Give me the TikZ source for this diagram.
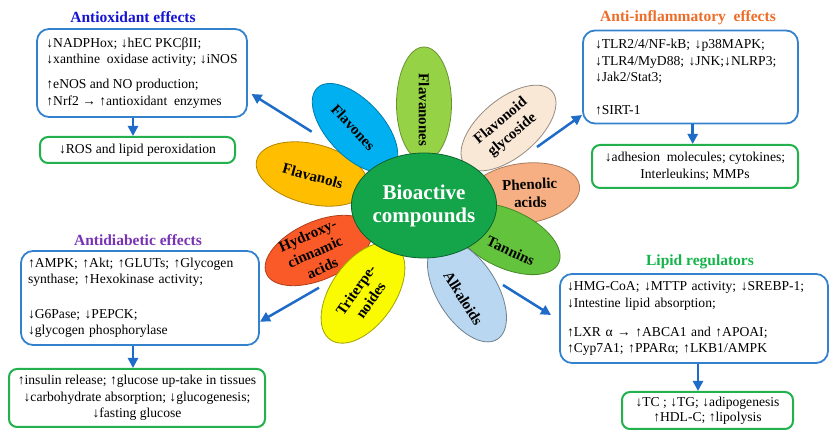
\documentclass[tikz,border=0pt]{standalone}
\usepackage{fontspec}
\setmainfont{Liberation Serif}
\usetikzlibrary{shapes.geometric,arrows.meta}

\definecolor{bxblue}{RGB}{52,130,205}
\definecolor{arblue}{RGB}{30,108,200}
\definecolor{bxgreen}{RGB}{34,177,76}
\definecolor{tblue}{RGB}{20,20,210}
\definecolor{torange}{RGB}{237,108,40}
\definecolor{tpurple}{RGB}{120,50,180}
\definecolor{tgreen}{RGB}{20,180,75}
\definecolor{cFlavanones}{RGB}{150,210,70}
\definecolor{cFlavones}{RGB}{0,176,240}
\definecolor{cFlavanols}{RGB}{255,190,0}
\definecolor{cHydroxy}{RGB}{250,90,40}
\definecolor{cTriterp}{RGB}{250,250,0}
\definecolor{cAlkaloids}{RGB}{185,215,240}
\definecolor{cTannins}{RGB}{100,195,60}
\definecolor{cPhenolic}{RGB}{245,175,130}
\definecolor{cGlyc}{RGB}{250,232,215}
\definecolor{cCenter}{RGB}{20,165,75}

\tikzset{
  bluebox/.style={draw=bxblue, line width=1.8pt, rounded corners=12pt, inner sep=0pt,
    font=\fontsize{13.6}{16.5}\selectfont, align=left},
  greenbox/.style={draw=bxgreen, line width=2pt, rounded corners=8pt, inner sep=0pt,
    font=\fontsize{13.6}{16.5}\selectfont, align=center},
  arr/.style={draw=arblue, line width=2.5pt, -{Triangle[length=10pt,width=10pt]}},
  petal/.style={ellipse, line width=0.8pt, inner sep=0pt},
  ptext/.style={font=\bfseries\fontsize{15}{18}\selectfont, align=center},
  ttl/.style={font=\bfseries\fontsize{15.5}{18}\selectfont}
}

\begin{document}
\begin{tikzpicture}[x=1pt,y=-1pt]
\useasboundingbox (0,0) rectangle (831,430);

% ---------- petals ----------
\node[petal, fill=cFlavanols, draw=cFlavanols!70!black, minimum width=114, minimum height=60, rotate=-14] (pFlavanols) at (312,174) {};
\node[petal, fill=cFlavones, draw=cFlavones!70!black, minimum width=110, minimum height=56, rotate=-47] (pFlavones) at (355,128) {};
\node[petal, fill=cFlavanones, draw=cFlavanones!70!black, minimum width=114, minimum height=55, rotate=90] (pFlavanones) at (424,104) {};
\node[petal, fill=cGlyc, draw=cGlyc!60!black, minimum width=114, minimum height=58, rotate=40] (pGlyc) at (508.5,128) {};
\node[petal, fill=cPhenolic, draw=cPhenolic!70!black, minimum width=114, minimum height=60, rotate=8] (pPhenolic) at (523,193.5) {};
\node[petal, fill=cTannins, draw=cTannins!70!black, minimum width=114, minimum height=58, rotate=-25] (pTannins) at (507,239) {};
\node[petal, fill=cAlkaloids, draw=cAlkaloids!60!black, minimum width=114, minimum height=60, rotate=-58] (pAlkaloids) at (467,291) {};
\node[petal, fill=cHydroxy, draw=cHydroxy!70!black, minimum width=114, minimum height=58, rotate=24] (pHydroxy) at (318.5,250.5) {};
\node[petal, fill=cTriterp, draw=cTriterp!65!black, minimum width=114, minimum height=64, rotate=55] (pTriterp) at (363,293) {};

% ---------- center ----------
\node[ellipse, fill=cCenter, draw=cCenter!60!black, line width=0.8pt, inner sep=0pt,
  minimum width=122, minimum height=105, text=white, align=center,
  font=\bfseries\fontsize{21}{23}\selectfont] (center) at (424,205.5) {Bioactive\\compounds};

% ---------- petal texts ----------
\node[ptext, rotate=-90] (tFlavanones) at (424,110) {Flavanones};
\node[ptext, rotate=-47] (tFlavones) at (353.3,127.3) {Flavones};
\node[ptext, rotate=-15] (tFlavanols) at (312.7,175.7) {Flavanols};
\node[ptext, rotate=24] (tHydroxy) at (315,251.7) {Hydroxy-\\cinnamic\\acids};
\node[ptext, rotate=55] (tTriterp) at (363.3,295) {Triterpe-\\noides};
\node[ptext, rotate=-58] (tAlkaloids) at (463.3,298.3) {Alkaloids};
\node[ptext, rotate=-25] (tTannins) at (510.7,251) {Tannins};
\node[ptext, rotate=2] (tPhenolic) at (530,193.3) {Phenolic\\acids};
\node[ptext, rotate=40] (tGlyc) at (506.7,128.3) {Flavonoid\\glycoside};

% ---------- titles ----------
\node[ttl, text=tblue] (ttl1) at (133,17) {Antioxidant effects};
\node[ttl, text=torange] (ttl2) at (688,18) {Anti-inflammatory\ \ effects};
\node[ttl, text=tpurple] (ttl3) at (138,240) {Antidiabetic effects};
\node[ttl, text=tgreen] (ttl4) at (700,262) {Lipid regulators};

% ---------- boxes ----------
\node[bluebox, minimum width=210, minimum height=88] (b1) at (142,73)
 {↓NADPHox; ↓hEC PKCβII;\\
  ↓xanthine\ \ oxidase activity; ↓iNOS\\[8.5pt]
  ↑eNOS and NO production;\\
  ↑Nrf2 → ↑antioxidant\ \ enzymes};
\node[greenbox, minimum width=195, minimum height=26] (b2) at (137.5,150)
 {↓ROS and lipid peroxidation};

\node[bluebox, minimum width=215, minimum height=93, text width=191] (b3) at (690.5,77)
 {↓TLR2/4/NF-kB; ↓p38MAPK;\\
  ↓TLR4/MyD88; ↓JNK;↓NLRP3;\\
  ↓Jak2/Stat3;\\[16.5pt]
  ↑SIRT-1};
\node[greenbox, minimum width=206, minimum height=43] (b4) at (695,166.5)
 {↓adhesion\ \ molecules; cytokines;\\ Interleukins;\ MMPs};

\node[bluebox, minimum width=238, minimum height=94, text width=224] (b5) at (140,298)
 {↑AMPK; ↑Akt; ↑GLUTs; ↑Glycogen\\
  synthase; ↑Hexokinase activity;\\[18pt]
  ↓G6Pase; ↓PEPCK;\\
  ↓glycogen phosphorylase};
\node[greenbox, minimum width=256, minimum height=58] (b6) at (137,398)
 {↑insulin release; ↑glucose up-take in tissues\\
  ↓carbohydrate absorption; ↓glucogenesis;\\
  ↓fasting glucose};

\node[bluebox, minimum width=268, minimum height=89, text width=254] (b7) at (694,318.5)
 {↓HMG-CoA; ↓MTTP activity; ↓SREBP-1;\\
  ↓Intestine lipid absorption;\\[12.5pt]
  ↑LXR α → ↑ABCA1 and ↑APOAI;\\
  ↑Cyp7A1; ↑PPARα; ↑LKB1/AMPK};
\node[greenbox, minimum width=171, minimum height=37, font=\fontsize{13.6}{15}\selectfont] (b8) at (707.5,410.5)
 {↓TC ; ↓TG; ↓adipogenesis\\ ↑HDL-C; ↑lipolysis};

% ---------- vertical arrows ----------
\coordinate (x1) at (133,0);
\coordinate (x3) at (692.7,0);
\coordinate (x5) at (133,0);
\coordinate (x7) at (698,0);
\draw[arr] (x1 |- b1.south) -- (x1 |- b2.north);
\draw[arr] (x3 |- b3.south) -- (x3 |- b4.north);
\draw[arr] (x5 |- b5.south) -- (x5 |- b6.north);
\draw[arr] (x7 |- b7.south) -- (x7 |- b8.north);

% ---------- flower arrows ----------
\coordinate (s1) at (311.7,131.7); \coordinate (e1) at (251.5,94);
\coordinate (s3) at (537,147);     \coordinate (e3) at (582,115);
\coordinate (s5) at (319,287.7);   \coordinate (e5) at (260,321.7);
\coordinate (s7) at (503,285);     \coordinate (e7) at (551,315);
\draw[arr] (s1) -- (e1);
\draw[arr] (s3) -- (e3);
\draw[arr] (s5) -- (e5);
\draw[arr] (s7) -- (e7);
\end{tikzpicture}
\end{document}
